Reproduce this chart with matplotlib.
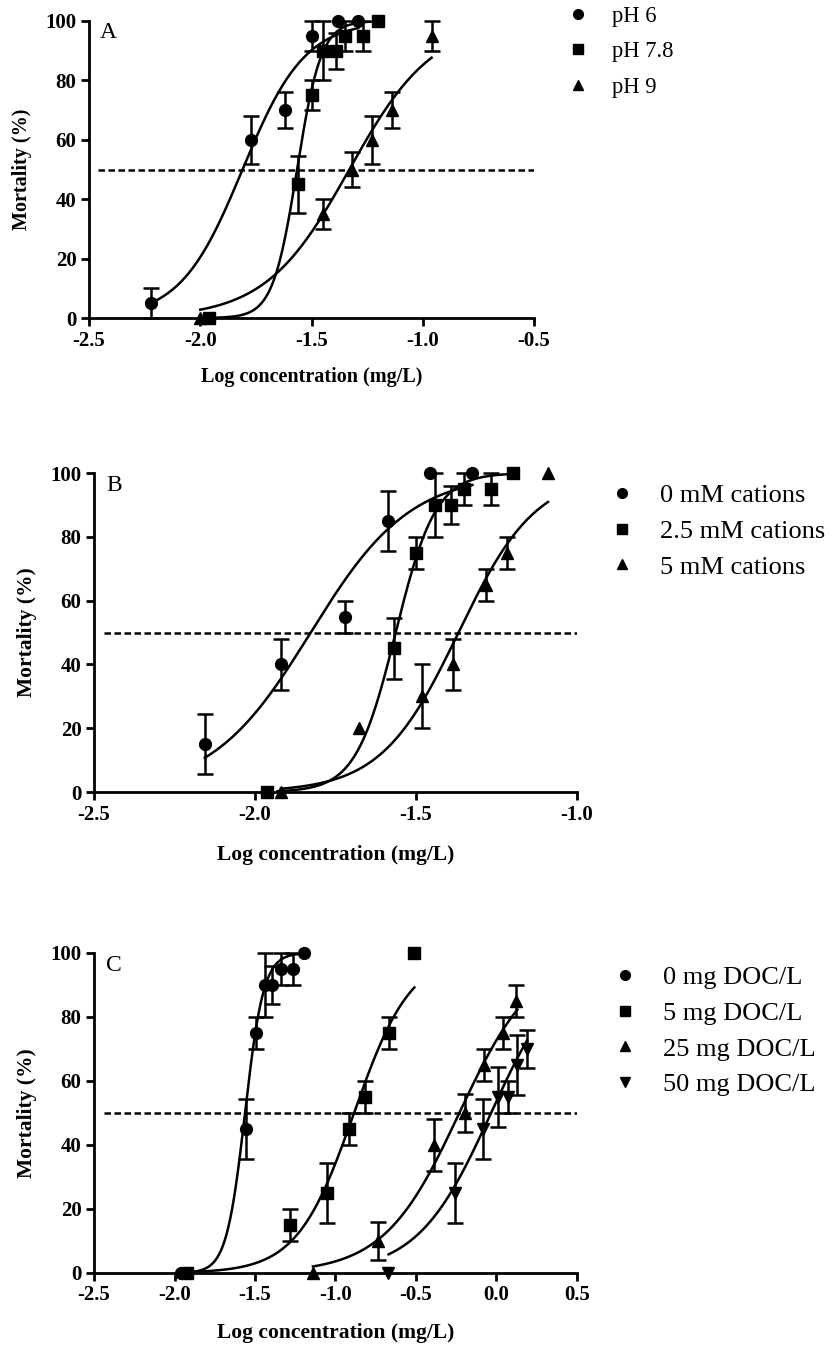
import matplotlib
matplotlib.use("Agg")
import matplotlib.pyplot as plt
from matplotlib.lines import Line2D
import numpy as np

plt.rcParams['font.family'] = ['Liberation Serif', 'DejaVu Serif']
plt.rcParams['axes.unicode_minus'] = False

# ---- panel A : pH ----
ph6_x = [-2.22, -1.77, -1.62, -1.50, -1.38, -1.29]
ph6_y = [5, 60, 70, 95, 100, 100]
ph6_err = [5, 8, 6, 5, 0, 0]

ph78_x = [-1.96, -1.56, -1.50, -1.45, -1.39, -1.35, -1.27, -1.20]
ph78_y = [0, 45, 75, 90, 90, 95, 95, 100]
ph78_err = [0, 9.5, 5, 10, 6, 5, 5, 0]

ph9_x = [-2.00, -1.45, -1.32, -1.23, -1.14, -0.96]
ph9_y = [0, 35, 50, 60, 70, 95]
ph9_err = [0, 5, 6, 8, 6, 5]

# ---- panel B : cations ----
cat0_x = [-2.156, -1.92, -1.72, -1.587, -1.455, -1.325]
cat0_y = [15, 40, 55, 85, 100, 100]
cat0_err = [9.5, 8, 5, 9.5, 0, 0]

cat25_x = [-1.964, -1.569, -1.50, -1.44, -1.39, -1.35, -1.266, -1.20]
cat25_y = [0, 45, 75, 90, 90, 95, 95, 100]
cat25_err = [0, 9.5, 5, 10, 6, 5, 5, 0]

cat5_x = [-1.92, -1.677, -1.482, -1.386, -1.284, -1.216, -1.09]
cat5_y = [0, 20, 30, 40, 65, 75, 100]
cat5_err = [0, 0, 10, 8, 5, 5, 0]

# ---- panel C : DOC ----
doc0_x = [-1.96, -1.556, -1.496, -1.436, -1.393, -1.338, -1.266, -1.194]
doc0_y = [0, 45, 75, 90, 90, 95, 95, 100]
doc0_err = [0, 9.5, 5, 10, 6, 5, 5, 0]

doc5_x = [-1.92, -1.285, -1.053, -0.914, -0.818, -0.667, -0.513]
doc5_y = [0, 15, 25, 45, 55, 75, 100]
doc5_err = [0, 5, 9.5, 5, 5, 5, 0]

doc25_x = [-1.141, -0.739, -0.386, -0.195, -0.075, 0.038, 0.122]
doc25_y = [0, 10, 40, 50, 65, 75, 85]
doc25_err = [0, 6, 8, 6, 5, 5, 5]

doc50_x = [-0.674, -0.255, -0.082, 0.009, 0.069, 0.129, 0.189]
doc50_y = [0, 25, 45, 55, 55, 65, 70]
doc50_err = [0, 9.5, 9.5, 9.5, 5, 9.5, 6]

# fitted dose-response curves: (logEC50, hill slope, x from, x to)
fit_A = [(-1.81, 3.1, -2.22, -1.29), (-1.565, 8.0, -1.98, -1.20), (-1.33, 2.3, -2.00, -0.96)]
fit_B = [(-1.827, 2.8, -2.156, -1.325), (-1.563, 7.0, -1.93, -1.20), (-1.368, 3.6, -1.92, -1.09)]
fit_C = [(-1.562, 7.5, -1.92, -1.19), (-0.885, 2.45, -1.92, -0.51),
         (-0.231, 1.85, -1.14, 0.13), (-0.034, 1.9, -0.67, 0.19)]

labels_A = ['pH 6', 'pH 7.8', 'pH 9']
labels_B = ['0 mM cations', '2.5 mM cations', '5 mM cations']
labels_C = ['0 mg DOC/L', '5 mg DOC/L', '25 mg DOC/L', '50 mg DOC/L']
markers = ['o', 's', '^', 'v']


def hill(x, ec50, h):
    return 100.0 / (1.0 + 10 ** ((ec50 - x) * h))


def panel(ax, series, fits, letter, xlim, lab_size, xlab_y):
    for (x, y, e), m in zip(series, markers):
        x = np.array(x); y = np.array(y); e = np.array(e, dtype=float)
        k = e > 0
        ax.errorbar(x[k], y[k], yerr=e[k], fmt='none', ecolor='k', elinewidth=1.8,
                    capsize=5.5, capthick=1.8, clip_on=False, zorder=3)
        ax.plot(x, y, m, color='k', ms=8.5 if m == 'o' else 8, clip_on=False, zorder=4)
    for ec50, h, x0, x1 in fits:
        xs = np.linspace(x0, x1, 200)
        ax.plot(xs, hill(xs, ec50, h), color='k', lw=1.8, zorder=2)
    ax.plot([xlim[0] + 0.02 * (xlim[1] - xlim[0]), xlim[1]], [50, 50], color='k',
            lw=1.8, ls=(0, (2.6, 1.4)), zorder=1)
    ax.set_xlim(xlim)
    ax.set_ylim(0, 100)
    ticks = np.arange(xlim[0], xlim[1] + 0.01, 0.5)
    ax.set_xticks(ticks)
    ax.set_xticklabels(['%.1f' % v for v in ticks])
    ax.set_yticks([0, 20, 40, 60, 80, 100])
    for s in ['top', 'right']:
        ax.spines[s].set_visible(False)
    for s in ['left', 'bottom']:
        ax.spines[s].set_linewidth(2.0)
    ax.tick_params(direction='out', length=6, width=2.0, labelsize=15, pad=3)
    for t in ax.get_xticklabels() + ax.get_yticklabels():
        t.set_fontweight('bold')
    ax.set_xlabel('Log concentration (mg/L)', fontsize=lab_size, fontweight='bold')
    ax.set_ylabel('Mortality (%)', fontsize=lab_size, fontweight='bold')
    ax.xaxis.set_label_coords(0.5, xlab_y)
    ax.yaxis.set_label_coords(-57 / ax.get_position().width / 834, 0.5)
    ax.text(0.025, 0.995, letter, transform=ax.transAxes, fontsize=17, va='top', ha='left')


def legend(ax, labels, x, y, size, gap, pad):
    handles = [Line2D([], [], ls='none', marker=m, color='k', ms=7) for m in markers[:len(labels)]]
    ax.legend(handles, labels, loc='upper left', bbox_to_anchor=(x, y),
              bbox_transform=fig.transFigure, frameon=False, fontsize=size,
              handlelength=1.0, handletextpad=pad, labelspacing=gap, borderpad=0,
              borderaxespad=0)


fig = plt.figure(figsize=(8.34, 13.49), dpi=100)

axA = fig.add_axes([89 / 834, 1 - 318 / 1349, 445 / 834, 297 / 1349])
panel(axA, [(ph6_x, ph6_y, ph6_err), (ph78_x, ph78_y, ph78_err), (ph9_x, ph9_y, ph9_err)],
      fit_A, 'A', (-2.5, -0.5), 14.5, -0.165)
legend(axA, labels_A, 567 / 834, 1 - 6 / 1349, 16.3, 0.63, 1.0)

axB = fig.add_axes([94 / 834, 1 - 792 / 1349, 483 / 834, 319 / 1349])
panel(axB, [(cat0_x, cat0_y, cat0_err), (cat25_x, cat25_y, cat25_err), (cat5_x, cat5_y, cat5_err)],
      fit_B, 'B', (-2.5, -1.0), 15.5, -0.166)
legend(axB, labels_B, 609 / 834, 1 - 484 / 1349, 19, 0.46, 0.94)

axC = fig.add_axes([94 / 834, 1 - 1273 / 1349, 483 / 834, 320 / 1349])
panel(axC, [(doc0_x, doc0_y, doc0_err), (doc5_x, doc5_y, doc5_err),
            (doc25_x, doc25_y, doc25_err), (doc50_x, doc50_y, doc50_err)],
      fit_C, 'C', (-2.5, 0.5), 15.5, -0.156)
legend(axC, labels_C, 612 / 834, 1 - 966 / 1349, 19, 0.46, 0.94)

fig.savefig('out.png', dpi=100)
